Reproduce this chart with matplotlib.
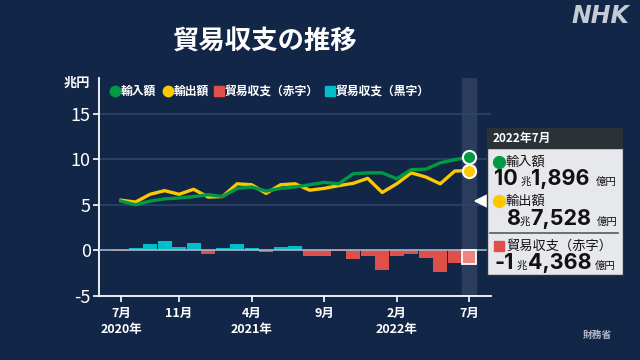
import matplotlib
matplotlib.use("Agg")
import matplotlib.pyplot as plt
from matplotlib.patches import Rectangle, Polygon
from matplotlib.lines import Line2D
import numpy as np

plt.rcParams['font.family'] = ['Noto Sans CJK JP', 'DejaVu Sans']

# monthly values, 2020-07 .. 2022-07 (兆円)
months = list(range(25))
imports = [5.4, 5.0, 5.4, 5.65, 5.75, 5.9, 6.1, 5.9, 6.8, 6.95, 6.5, 6.8, 6.95,
           7.2, 7.45, 7.3, 8.4, 8.5, 8.5, 7.85, 8.85, 8.9, 9.6, 9.95, 10.19]
exports = [5.5, 5.3, 6.15, 6.55, 6.15, 6.7, 5.85, 5.9, 7.3, 7.2, 6.25, 7.2, 7.3,
           6.6, 6.8, 7.1, 7.35, 7.9, 6.35, 7.3, 8.5, 8.05, 7.3, 8.7, 8.75]
balance = [-0.05, 0.3, 0.73, 0.99, 0.4, 0.8, -0.36, 0.3, 0.73, 0.3, -0.22, 0.4, 0.51,
           -0.66, -0.66, -0.1, -0.95, -0.6, -2.2, -0.66, -0.44, -0.84, -2.38, -1.39, -1.44]
tick_pos = [0, 4, 9, 14, 19, 24]
tick_labels = ['7月\n2020年', '11月', '4月\n2021年', '9月', '2月\n2022年', '7月']

BG = '#122648'
GREEN = '#009a44'
YELLOW = '#fcc800'
RED = '#e0504a'
CYAN = '#00bfcb'


def fx(px):
    return px / 640.0


def fy(py):
    return 1 - py / 360.0


fig = plt.figure(figsize=(6.4, 3.6), dpi=100, facecolor=BG)
ax = fig.add_axes([fx(99), fy(296), fx(491) - fx(99), fy(78) - fy(296)])
ax.set_facecolor(BG)

ax.axvspan(23.5, 24.5, color='#2b3d5c', zorder=0)
for v in [5, 10, 15]:
    ax.axhline(v, color='#2e4468', lw=1.2, zorder=1)
ax.axhline(0, color='#aab4c4', lw=1.2, zorder=3)

cols = [RED if b < 0 else CYAN for b in balance]
ax.bar(months[:-1], balance[:-1], width=0.96, color=cols[:-1], zorder=2)
ax.bar(months[-1], balance[-1], width=0.96, color='#ea8783',
       edgecolor='white', linewidth=1.3, zorder=4)

ax.plot(months, exports, color=YELLOW, lw=2.4, zorder=5)
ax.plot(months, imports, color=GREEN, lw=2.4, zorder=6)
ax.plot(months[-1], imports[-1], 'o', ms=9.5, color=GREEN, mec='white', mew=1.5, zorder=7)
ax.plot(months[-1], exports[-1], 'o', ms=9.5, color=YELLOW, mec='white', mew=1.5, zorder=7)

ax.set_xlim(-1.52, 25.5)
ax.set_ylim(-5, 18.9)
ax.set_yticks([-5, 0, 5, 10, 15])
ax.set_yticklabels(['-5', '0', '5', '10', '15'])
ax.set_xticks(tick_pos)
ax.set_xticklabels(tick_labels, fontweight='bold', linespacing=1.3)
ax.tick_params(axis='y', colors='white', labelsize=13, length=4, width=1.2, pad=2)
ax.tick_params(axis='x', colors='white', labelsize=9, length=4, width=1.2, pad=4)
for s in ['top', 'right']:
    ax.spines[s].set_visible(False)
for s in ['left', 'bottom']:
    ax.spines[s].set_color('white')
    ax.spines[s].set_linewidth(1.3)

# title, unit, logo, source
fig.text(fx(265), fy(42), '貿易収支の推移', color='white', fontsize=19,
         fontweight='bold', ha='center', va='center')
fig.text(fx(77), fy(83), '兆円', color='white', fontsize=9.5, fontweight='bold',
         ha='center', va='center')
fig.text(fx(600), fy(16), 'NHK', color='#c5cad3', fontsize=17, fontweight='bold',
         style='italic', ha='center', va='center', family='DejaVu Sans')
fig.text(fx(597), fy(335), '財務省', color='#b5bcc8', fontsize=7, fontweight='bold',
         ha='center', va='center')

# legend
leg = [('o', GREEN, '輸入額', 115), ('o', YELLOW, '輸出額', 168),
       ('s', RED, '貿易収支（赤字）', 219), ('s', CYAN, '貿易収支（黒字）', 330)]
for mk, c, lab, x in leg:
    fig.add_artist(Line2D([fx(x)], [fy(91)], marker=mk, ms=7.5 if mk == 'o' else 7,
                          color=c, lw=0))
    fig.text(fx(x + 6), fy(91), lab, color='white', fontsize=8.5, fontweight='bold',
             ha='left', va='center')

# info box
fig.add_artist(Polygon([[fx(475), fy(201)], [fx(487), fy(195)], [fx(487), fy(207)]],
                       closed=True, color='white', transform=fig.transFigure))
fig.add_artist(Rectangle((fx(487), fy(275)), fx(623) - fx(487), fy(148) - fy(275),
                         transform=fig.transFigure, facecolor='#e6e8ec',
                         edgecolor='#2a3238', lw=1))
fig.add_artist(Rectangle((fx(487), fy(149)), fx(623) - fx(487), fy(128) - fy(149),
                         transform=fig.transFigure, facecolor='#2a3238', lw=0))
fig.text(fx(493), fy(138.5), '2022年7月', color='white', fontsize=8.5,
         fontweight='bold', ha='left', va='center')
fig.add_artist(Line2D([fx(490), fx(618)], [fy(233), fy(233)], color='#555b62', lw=1.2))

DARK = '#111111'
labels = [('o', GREEN, '輸入額', 162), ('o', YELLOW, '輸出額', 201),
          ('s', RED, '貿易収支（赤字）', 246)]
for mk, c, lab, ly in labels:
    fig.add_artist(Line2D([fx(499)], [fy(ly)], marker=mk,
                          ms=8.5 if mk == 'o' else 7.5, color=c, lw=0))
    fig.text(fx(506), fy(ly), lab, color=DARK, fontsize=9.5, ha='left', va='center')

# 兆 part, its x, 兆 x, 億 part, its x, 億円 right x, baseline y
vals = [('10', 494, 521, '1,896', 531, 617, 185),
        ('8', 507, 520, '7,528', 530, 618, 225),
        ('-1', 494, 517, '4,368', 528, 616, 269)]
for a, xa, xc, b, xb, xe, base in vals:
    fig.text(fx(xa), fy(base), a, color=DARK, fontsize=15.5, fontweight='bold',
             ha='left', va='baseline', family='Inter')
    fig.text(fx(xc), fy(base), '兆', color=DARK, fontsize=7.5, ha='left',
             va='baseline')
    fig.text(fx(xb), fy(base), b, color=DARK, fontsize=15.5, fontweight='bold',
             ha='left', va='baseline', family='Inter')
    fig.text(fx(xe), fy(base), '億円', color=DARK, fontsize=7.5, ha='right',
             va='baseline')

fig.savefig('out.png', dpi=100, facecolor=BG)
